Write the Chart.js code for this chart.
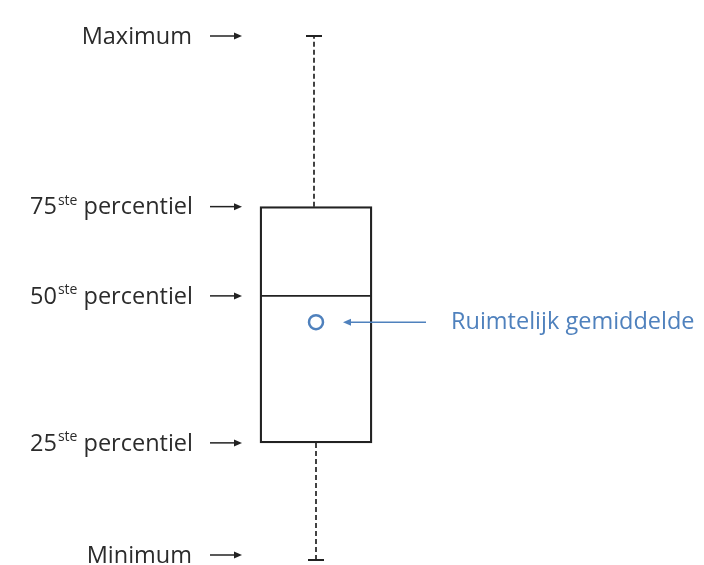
<!DOCTYPE html>
<html lang="nl">
<head>
  <meta charset="UTF-8" />
  <title>Boxplot uitleg</title>
  <script src="https://cdn.jsdelivr.net/npm/chart.js"></script>
  <style>
    html, body { margin: 0; padding: 0; background: #fff; }
    canvas { display: block; }
  </style>
</head>
<body>
  <canvas id="boxChart" width="704" height="565"></canvas>

  <script>
    // stats from top to bottom: maximum, 75ste, 50ste, 25ste, minimum
    const statValues = [100, 67.5, 50.5, 22.5, 0];
    const statMain = ['Maximum', '75', '50', '25', 'Minimum'];
    const statSup = ['', 'ste', 'ste', 'ste', ''];
    const statTail = ['', ' percentiel', ' percentiel', ' percentiel', ''];
    const meanValue = 45.5;
    const meanLabel = 'Ruimtelijk gemiddelde';

    const BLUE = '#4f81bd';
    const INK = '#222';
    const FONT = 'Open Sans';

    function arrow(ctx, x1, y, x2, color) {
      // line from x1 to x2, head at x2
      const dir = x2 > x1 ? 1 : -1;
      ctx.save();
      ctx.strokeStyle = color;
      ctx.fillStyle = color;
      ctx.lineWidth = 1.5;
      ctx.beginPath();
      ctx.moveTo(x1, y);
      ctx.lineTo(x2 - dir * 6, y);
      ctx.stroke();
      ctx.beginPath();
      ctx.moveTo(x2, y);
      ctx.lineTo(x2 - dir * 8, y - 3.5);
      ctx.lineTo(x2 - dir * 8, y + 3.5);
      ctx.closePath();
      ctx.fill();
      ctx.restore();
    }

    const boxExtras = {
      id: 'boxExtras',
      afterDatasetsDraw(chart) {
        const ctx = chart.ctx;
        const y = chart.scales.y;
        const bar = chart.getDatasetMeta(1).data[0];
        const cx = bar.x;
        const half = bar.width / 2;
        const [vMax, vQ3, vMed, vQ1, vMin] = statValues;

        ctx.save();
        // whiskers
        ctx.strokeStyle = INK;
        ctx.lineWidth = 1.7;
        ctx.setLineDash([5, 3]);
        ctx.beginPath();
        ctx.moveTo(cx - 2, y.getPixelForValue(vQ3));
        ctx.lineTo(cx - 2, y.getPixelForValue(vMax));
        ctx.moveTo(cx, y.getPixelForValue(vQ1));
        ctx.lineTo(cx, y.getPixelForValue(vMin));
        ctx.stroke();
        ctx.setLineDash([]);

        // caps
        ctx.lineWidth = 2;
        ctx.beginPath();
        ctx.moveTo(cx - 10, y.getPixelForValue(vMax));
        ctx.lineTo(cx + 6, y.getPixelForValue(vMax));
        ctx.moveTo(cx - 8, y.getPixelForValue(vMin) - 1);
        ctx.lineTo(cx + 8, y.getPixelForValue(vMin) - 1);
        ctx.stroke();

        // median
        ctx.lineWidth = 1.8;
        ctx.beginPath();
        ctx.moveTo(cx - half, y.getPixelForValue(vMed));
        ctx.lineTo(cx + half, y.getPixelForValue(vMed));
        ctx.stroke();

        // left labels with arrows
        statValues.forEach((v, i) => {
          let py = y.getPixelForValue(v);
          if (i === statValues.length - 1) py -= 6;
          arrow(ctx, 210, py, 242, INK);

          ctx.fillStyle = '#2b2b2b';
          ctx.textBaseline = 'middle';
          ctx.font = `23.5px "${FONT}"`;
          const wMain = ctx.measureText(statMain[i]).width;
          const wTail = ctx.measureText(statTail[i]).width;
          ctx.font = `14px "${FONT}"`;
          const wSup = ctx.measureText(statSup[i]).width;
          const right = 192;
          let x = right - wMain - wSup - wTail;
          ctx.textAlign = 'left';
          ctx.font = `23.5px "${FONT}"`;
          ctx.fillText(statMain[i], x, py + 1);
          x += wMain;
          if (statSup[i]) {
            ctx.font = `14px "${FONT}"`;
            ctx.fillText(statSup[i], x + 1, py - 6);
            x += wSup + 1;
            ctx.font = `23.5px "${FONT}"`;
            ctx.fillText(statTail[i], x, py + 1);
          }
        });

        // mean annotation
        const my = y.getPixelForValue(meanValue);
        arrow(ctx, 426, my, 343, BLUE);
        ctx.fillStyle = BLUE;
        ctx.font = `23.5px "${FONT}"`;
        ctx.textAlign = 'left';
        ctx.textBaseline = 'middle';
        ctx.fillText(meanLabel, 451, my);
        ctx.restore();
      }
    };

    new Chart(document.getElementById('boxChart').getContext('2d'), {
      type: 'bar',
      data: {
        labels: [''],
        datasets: [
          {
            type: 'line',
            order: 0,
            data: [meanValue],
            showLine: false,
            pointRadius: 7,
            pointBorderWidth: 2.5,
            pointBackgroundColor: 'rgba(0,0,0,0)',
            pointBorderColor: BLUE
          },
          {
            type: 'bar',
            order: 1,
            data: [[statValues[3], statValues[1]]],
            backgroundColor: '#fff',
            borderColor: INK,
            borderWidth: 2.3,
            borderSkipped: false,
            barThickness: 112
          }
        ]
      },
      options: {
        responsive: false,
        animation: false,
        layout: { autoPadding: false, padding: { top: 36, bottom: 4, left: 0, right: 72 } },
        plugins: {
          legend: { display: false },
          tooltip: { enabled: false }
        },
        scales: {
          x: { display: false, offset: true },
          y: { display: false, min: 0, max: 100 }
        }
      },
      plugins: [boxExtras]
    });
  </script>
</body>
</html>
